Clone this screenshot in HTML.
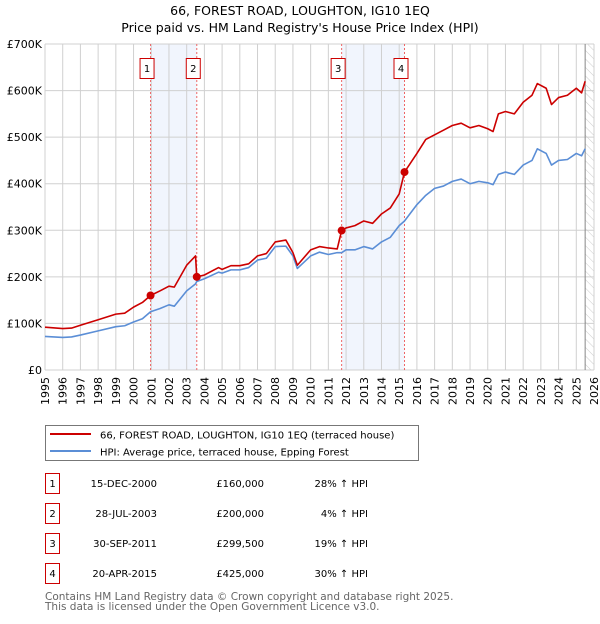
<!DOCTYPE html>
<html><head><meta charset="utf-8"><style>
body{margin:0;background:#fff;font-family:"DejaVu Sans","Liberation Sans",sans-serif;}
svg text{font-family:"DejaVu Sans","Liberation Sans",sans-serif;}
</style></head><body>
<svg id="chart" width="600" height="620" xmlns="http://www.w3.org/2000/svg">
<defs>
<pattern id="hatch" width="6" height="6" patternUnits="userSpaceOnUse" patternTransform="rotate(-45)">
<line x1="0" y1="0" x2="0" y2="6" stroke="#ccc" stroke-width="1"/></pattern>
</defs>
<text x="300" y="15" text-anchor="middle" font-size="12.5">66, FOREST ROAD, LOUGHTON, IG10 1EQ</text>
<text x="300" y="32" text-anchor="middle" font-size="12.5">Price paid vs. HM Land Registry's House Price Index (HPI)</text>
<g id="plot"></g>
<g>
<rect x="45.5" y="425.5" width="373" height="35" fill="#fff" stroke="#777"/>
<line x1="50" y1="434" x2="91" y2="434" stroke="#cc0000" stroke-width="2"/>
<text x="100" y="438.5" font-size="10">66, FOREST ROAD, LOUGHTON, IG10 1EQ (terraced house)</text>
<line x1="50" y1="451" x2="91" y2="451" stroke="#5b8ed6" stroke-width="2"/>
<text x="100" y="455.5" font-size="10">HPI: Average price, terraced house, Epping Forest</text>
</g>
<g id="table" font-size="10"></g>
<text x="45" y="600" font-size="10.5" fill="#666">Contains HM Land Registry data © Crown copyright and database right 2025.</text>
<text x="45" y="610" font-size="10.5" fill="#666">This data is licensed under the Open Government Licence v3.0.</text>
</svg>
<script>
const dates=[1995.0,1996.0,1996.5,1997.0,1998.0,1999.0,1999.5,2000.0,2000.5,2000.96,2001.5,2002.0,2002.3,2003.0,2003.5,2003.57,2004.0,2004.8,2005.0,2005.5,2006.0,2006.5,2007.0,2007.5,2008.0,2008.6,2009.0,2009.25,2010.0,2010.5,2011.0,2011.5,2011.75,2012.0,2012.5,2013.0,2013.5,2014.0,2014.5,2015.0,2015.3,2016.0,2016.5,2017.0,2017.5,2018.0,2018.5,2019.0,2019.5,2020.0,2020.3,2020.6,2021.0,2021.5,2022.0,2022.5,2022.8,2023.3,2023.6,2024.0,2024.5,2025.0,2025.3,2025.5];
const hpi=[72,70,71,75,84,93,95,103,110,125,132,140,137,170,185,190,196,210,208,215,215,220,236,240,265,266,245,218,245,253,248,252,252,258,258,265,260,275,285,310,320,355,375,390,395,405,410,400,405,402,398,420,425,420,440,450,475,465,440,450,452,465,460,475];
const price=[92,89,90,96,108,120,122,135,145,160,170,180,178,225,245,200,204,220,216,224,224,228,245,250,275,279,252,225,258,265,262,260,299.5,305,310,320,315,335,348,378,425,465,495,505,515,525,530,520,525,518,512,550,555,550,575,590,615,605,570,585,590,605,595,620];
const saleLabels=["1","2","3","4"];
const saleDates=[2000.96,2003.57,2011.75,2015.3];
const salePrices=[160,200,299.5,425];
const saleDateText=["15-DEC-2000","28-JUL-2003","30-SEP-2011","20-APR-2015"];
const salePriceText=["£160,000","£200,000","£299,500","£425,000"];
const salePctText=["28% ↑ HPI","4% ↑ HPI","19% ↑ HPI","30% ↑ HPI"];
const yTicks=[0,100,200,300,400,500,600,700];
const yTickLabels=["£0","£100K","£200K","£300K","£400K","£500K","£600K","£700K"];
const xYears=[];for(let y=1995;y<=2026;y++)xYears.push(y);

const NS="http://www.w3.org/2000/svg";
const X0=45,X1=594,Y0=370,Y1=44;
const xs=v=>X0+(v-1995)/(2026-1995)*(X1-X0);
const ys=v=>Y0-v/700*(Y0-Y1);
const plot=document.getElementById('plot');
function mk(tag,attrs,parent){const e=document.createElementNS(NS,tag);for(const k in attrs)e.setAttribute(k,attrs[k]);(parent||plot).appendChild(e);return e;}
for(let i=0;i<saleDates.length;i+=2){
 const r=mk('rect',{x:xs(saleDates[i]),y:Y1,width:xs(saleDates[i+1])-xs(saleDates[i]),height:Y0-Y1,fill:'#eef3fc',opacity:0.8});
 
 
}
const h=mk('rect',{x:xs(2025.5),y:Y1,width:X1-xs(2025.5),height:Y0-Y1,fill:'url(#hatch)'});


xYears.forEach(y=>{const l=mk('line',{x1:xs(y),x2:xs(y),y1:Y1,y2:Y0,stroke:'#d0d0d0','stroke-width':1});
 
 
 const t=mk('text',{x:0,y:0,'font-size':11,'text-anchor':'end',transform:`translate(${xs(y)+4},${Y0+7}) rotate(-90)`});
 t.textContent=y;
 
 
});
yTicks.forEach((v,i)=>{const l=mk('line',{x1:X0,x2:X1,y1:ys(v),y2:ys(v),stroke:'#d0d0d0','stroke-width':1});
 
 
 const t=mk('text',{x:X0-3,y:ys(v)+4,'font-size':11,'text-anchor':'end'});
 t.textContent=yTickLabels[i];
 
 
});
mk('line',{x1:xs(2025.5),x2:xs(2025.5),y1:Y1,y2:Y0,stroke:'#888','stroke-width':1});
saleDates.forEach((d,i)=>{const l=mk('line',{x1:xs(d),x2:xs(d),y1:Y1,y2:Y0,stroke:'#ee6666','stroke-width':1,'stroke-dasharray':'2,2'});
 
 
 const g=mk('g',{});
 
 
 mk('rect',{x:xs(d)-10.5,y:58.5,width:14,height:20,fill:'#fff',stroke:'#cc0000','stroke-width':1},g);
 const t=mk('text',{x:xs(d)-3.5,y:72,'font-size':10,'text-anchor':'middle'},g);t.textContent=saleLabels[i];
});
function line(vals,color,name){const p=mk('polyline',{points:dates.map((d,i)=>xs(d)+','+ys(vals[i])).join(' '),fill:'none',stroke:color,'stroke-width':1.6,'stroke-linejoin':'round'});
 
 }
line(hpi,'#5b8ed6','hpi-line');
line(price,'#cc0000','price-line');
saleDates.forEach((d,i)=>{const c=mk('circle',{cx:xs(d),cy:ys(salePrices[i]),r:4,fill:'#cc0000'});
 
 });
const tb=document.getElementById('table');
saleLabels.forEach((s,i)=>{const y=483+i*30;
 const g=mk('g',{},tb);
 
 
 mk('rect',{x:45.5,y:y-9.5,width:14,height:20,fill:'#fff',stroke:'#cc0000'},g);
 let t=mk('text',{x:52.5,y:y+4,'text-anchor':'middle'},g);t.textContent=s;
 t=mk('text',{x:157,y:y+4,'text-anchor':'end'},g);t.textContent=saleDateText[i];
 t=mk('text',{x:264,y:y+4,'text-anchor':'end'},g);t.textContent=salePriceText[i];
 t=mk('text',{x:368,y:y+4,'text-anchor':'end'},g);t.textContent=salePctText[i];
});
</script>
</body></html>
